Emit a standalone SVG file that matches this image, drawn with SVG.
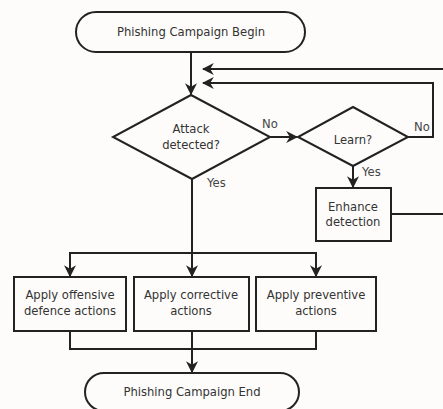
<svg xmlns="http://www.w3.org/2000/svg" width="443" height="409" viewBox="0 0 443 409">
<defs>
<style>
.s{fill:#fdfcfa;stroke:#222;stroke-width:2}
.l{fill:none;stroke:#222;stroke-width:2}
.t{font-family:"DejaVu Sans",sans-serif;font-size:11.6px;fill:#333;text-anchor:middle}
.lb{font-family:"DejaVu Sans",sans-serif;font-size:11.6px;fill:#444}
</style>
<marker id="a" viewBox="0 0 10 10" refX="9" refY="5" markerWidth="6" markerHeight="6" orient="auto" markerUnits="strokeWidth">
<path d="M0,0 L10,5 L0,10 L3,5 Z" fill="#222"/>
</marker>
</defs>
<rect width="443" height="409" fill="#fdfcfa"/>
<g id="connectors">
<path class="l" d="M191,52 V94" marker-end="url(#a)"/>
<path class="l" d="M443,69 H203" marker-end="url(#a)"/>
<path class="l" d="M408,137 H433 V83 H203" marker-end="url(#a)"/>
<path class="l" d="M270,137 H297" marker-end="url(#a)"/>
<path class="l" d="M353,166 V187" marker-end="url(#a)"/>
<path class="l" d="M391,214 H443"/>
<path class="l" d="M192,179 V276" marker-end="url(#a)"/>
<path class="l" d="M70,276 V253 H316 V276" marker-end="url(#a)"/>
<path class="l" d="M70,253 V276" marker-end="url(#a)"/>
<path class="l" d="M70,331 V349 H316 V331 M192,331 V372" marker-end="url(#a)"/>
<text class="lb" x="262" y="128">No</text>
<text class="lb" x="414" y="131">No</text>
<text class="lb" x="362" y="176">Yes</text>
<text class="lb" x="207" y="187">Yes</text>
</g>
<g id="begin">
<rect class="s" x="76" y="12" width="229" height="40" rx="20"/>
<text class="t" x="191" y="36">Phishing Campaign Begin</text>
</g>
<g id="attack">
<path class="s" d="M191,95 L270,137 L192,179 L113,137 Z"/>
<text class="t" x="191" y="133">Attack</text>
<text class="t" x="191" y="149">detected?</text>
</g>
<g id="learn">
<path class="s" d="M353,107 L408,137 L353,166 L298,137 Z"/>
<text class="t" x="353" y="144">Learn?</text>
</g>
<g id="enhance">
<rect class="s" x="316" y="188" width="75" height="53"/>
<text class="t" x="353" y="211">Enhance</text>
<text class="t" x="353" y="226">detection</text>
</g>
<g id="offensive">
<rect class="s" x="14" y="277" width="112" height="54"/>
<text class="t" x="70" y="299">Apply offensive</text>
<text class="t" x="70" y="315">defence actions</text>
</g>
<g id="corrective">
<rect class="s" x="134" y="277" width="115" height="54"/>
<text class="t" x="191" y="299">Apply corrective</text>
<text class="t" x="191" y="315">actions</text>
</g>
<g id="preventive">
<rect class="s" x="256" y="277" width="120" height="54"/>
<text class="t" x="316" y="299">Apply preventive</text>
<text class="t" x="316" y="315">actions</text>
</g>
<g id="end">
<rect class="s" x="85" y="373" width="214" height="38" rx="19"/>
<text class="t" x="192" y="396">Phishing Campaign End</text>
</g>
</svg>
